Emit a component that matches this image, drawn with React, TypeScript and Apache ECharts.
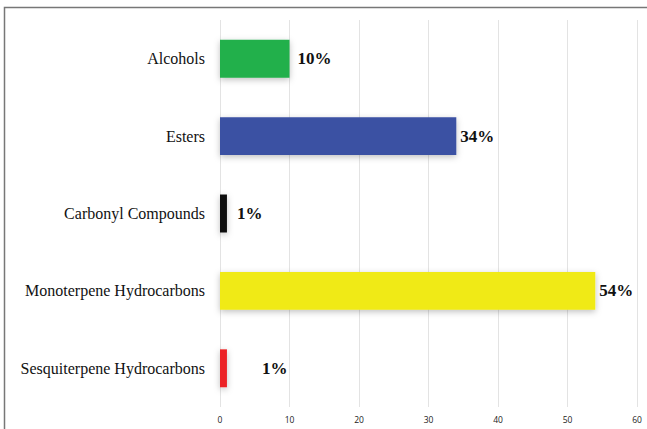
import React, { useEffect, useRef } from "react";
import * as echarts from "echarts";

const categories = [
  "Alcohols",
  "Esters",
  "Carbonyl Compounds",
  "Monoterpene Hydrocarbons",
  "Sesquiterpene Hydrocarbons",
];
const values = [10, 34, 1, 54, 1];
const labels = ["10%", "34%", "1%", "54%", "1%"];
const colors = ["#22b04b", "#3a51a3", "#0a0a0a", "#f0ea16", "#ec2227"];
const labelGaps = [8, 4, 10, 4, 35];

export default function App() {
  const ref = useRef<HTMLDivElement>(null);
  useEffect(() => {
    if (!ref.current) return;
    const chart = echarts.init(ref.current, null, { renderer: "svg" });
    chart.setOption({
      animation: false,
      backgroundColor: "#ffffff",
      grid: { left: 220, right: 10, top: 20, bottom: 22, containLabel: false },
      xAxis: {
        type: "value",
        min: 0,
        max: 60,
        interval: 10,
        axisLine: { show: false },
        axisTick: { show: false },
        splitLine: { show: true, lineStyle: { color: "#e3e3e3", width: 1 } },
        axisLabel: {
          color: "#222",
          fontSize: 8.5,
          fontFamily: "Open Sans",
          margin: 8,
        },
      },
      yAxis: {
        type: "category",
        inverse: true,
        data: categories,
        axisLine: { show: false },
        axisTick: { show: false },
        axisLabel: {
          color: "#111",
          fontSize: 16,
          fontFamily: "Liberation Serif",
          margin: 15,
        },
      },
      series: [
        {
          type: "bar",
          barWidth: "49%",
          data: values.map((v, i) => ({
            value: v,
            itemStyle: {
              color: colors[i],
              shadowBlur: 6,
              shadowColor: "rgba(0,0,0,0.25)",
              shadowOffsetY: 2,
            },
            label: {
              show: true,
              position: "right",
              distance: labelGaps[i],
              formatter: labels[i],
              fontFamily: "Liberation Serif",
              fontWeight: "bold",
              fontSize: 17,
              color: "#111",
            },
          })),
        },
      ],
      graphic: [
        {
          type: "rect",
          shape: { x: 4.5, y: 7.5, width: 700, height: 500 },
          style: { fill: "none", stroke: "#777", lineWidth: 1.5 },
          silent: true,
        },
      ],
    });
    return () => chart.dispose();
  }, []);
  return (
    <div
      ref={ref}
      style={{ position: "fixed", left: 0, top: 0, width: 647, height: 429 }}
    />
  );
}
